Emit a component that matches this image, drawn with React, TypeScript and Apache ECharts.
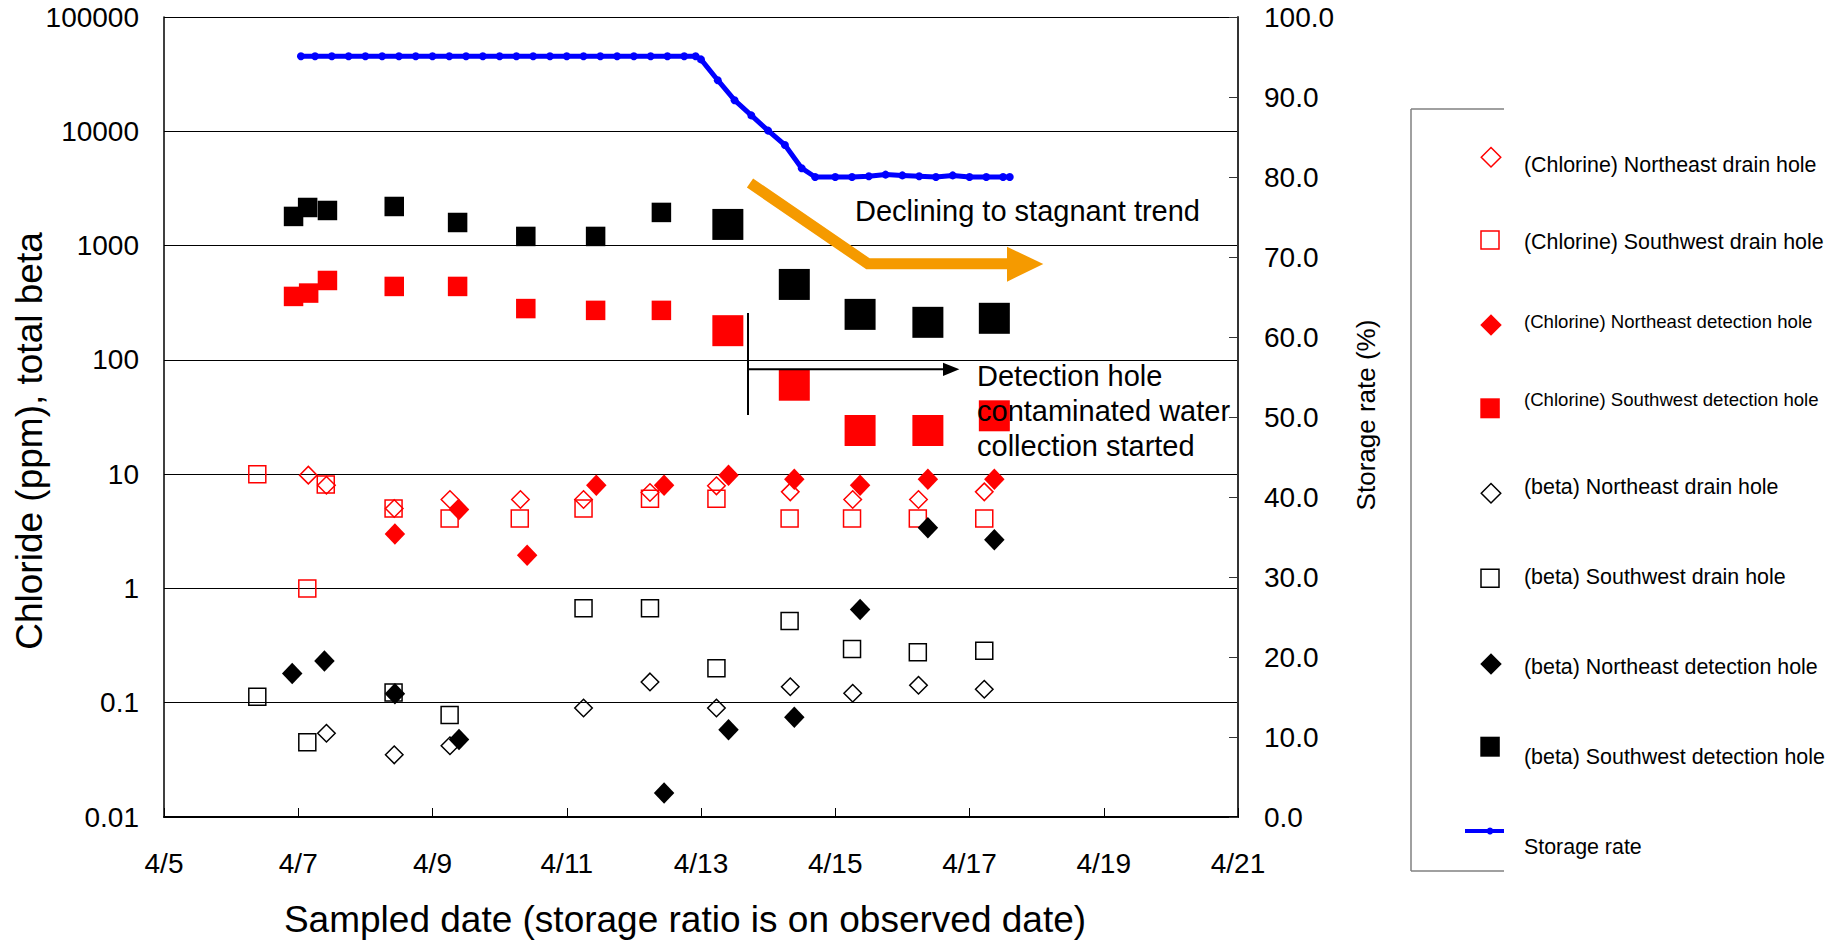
import React, { useEffect, useRef } from "react";
import * as echarts from "echarts";

// ---- Data (x = day of April, y = value) ----
const clNeDrainX = [7.15, 7.42, 8.43, 9.26, 10.31, 11.25, 12.24, 13.23, 14.33, 15.26, 16.24, 17.22];
const clNeDrainY = [9.8, 8.0, 5.0, 6.0, 6.0, 6.0, 6.9, 7.9, 7.0, 6.0, 6.0, 7.0];

const clSwDrainX = [6.39, 7.135, 7.41, 8.42, 9.255, 10.3, 11.25, 12.24, 13.23, 14.32, 15.25, 16.23, 17.22];
const clSwDrainY = [10, 1.0, 8.1, 5.0, 4.1, 4.1, 5.0, 6.1, 6.1, 4.1, 4.1, 4.1, 4.1];

const clNeDetX = [8.44, 9.395, 10.41, 11.44, 12.45, 13.41, 14.39, 15.37, 16.38, 17.37];
const clNeDetY = [3.0, 4.9, 1.95, 8.0, 8.0, 9.8, 9.0, 8.0, 9.0, 9.0];

const clSwDetX = [6.93, 7.155, 7.435, 8.43, 9.374, 10.39, 11.43, 12.41, 13.4, 14.39, 15.37, 16.38, 17.37];
const clSwDetY = [359, 384, 495, 439, 439, 281, 271, 271, 180, 60, 24.1, 24.1, 32.4];

const btNeDrainX = [7.42, 8.43, 9.26, 11.25, 12.24, 13.23, 14.33, 15.26, 16.24, 17.22];
const btNeDrainY = [0.054, 0.035, 0.042, 0.09, 0.152, 0.09, 0.138, 0.121, 0.142, 0.131];

const btSwDrainX = [6.39, 7.135, 8.42, 9.255, 11.25, 12.24, 13.23, 14.32, 15.25, 16.23, 17.22];
const btSwDrainY = [0.113, 0.045, 0.123, 0.078, 0.67, 0.67, 0.2, 0.52, 0.295, 0.276, 0.285];

const btNeDetX = [6.91, 7.39, 8.44, 9.395, 12.45, 13.41, 14.39, 15.37, 16.38, 17.37];
const btNeDetY = [0.18, 0.232, 0.12, 0.0477, 0.0162, 0.058, 0.0745, 0.653, 3.4, 2.67];

const btSwDetX = [6.93, 7.14, 7.435, 8.43, 9.374, 10.39, 11.43, 12.41, 13.4, 14.39, 15.37, 16.38, 17.37];
const btSwDetY = [1799, 2154, 2028, 2198, 1592, 1202, 1202, 1950, 1531, 457, 250, 213, 231];

const storageDays = [
  7.04, 7.25, 7.5, 7.75, 8, 8.25, 8.5, 8.75, 9, 9.25, 9.5, 9.75, 10, 10.25, 10.5, 10.75,
  11, 11.25, 11.5, 11.75, 12, 12.25, 12.5, 12.75, 12.92,
  13.0, 13.25, 13.5, 13.75, 14.0, 14.25, 14.5, 14.7,
  15, 15.25, 15.5, 15.75, 16, 16.25, 16.5, 16.75, 17, 17.25, 17.5, 17.6,
];
const storageRate = [
  95.1, 95.1, 95.1, 95.1, 95.1, 95.1, 95.1, 95.1, 95.1, 95.1, 95.1, 95.1, 95.1, 95.1, 95.1, 95.1,
  95.1, 95.1, 95.1, 95.1, 95.1, 95.1, 95.1, 95.1, 95.1,
  94.7, 92.1, 89.6, 87.7, 85.8, 84.0, 81.1, 80.0,
  80.0, 80.0, 80.1, 80.3, 80.2, 80.1, 80.0, 80.2, 80.0, 80.0, 80.0, 80.0,
];

const legendLabels = [
  "(Chlorine) Northeast drain hole",
  "(Chlorine) Southwest drain hole",
  "(Chlorine) Northeast detection hole",
  "(Chlorine) Southwest detection hole",
  "(beta) Northeast drain hole",
  "(beta) Southwest drain hole",
  "(beta) Northeast detection hole",
  "(beta) Southwest detection hole",
  "Storage rate",
];

const FONT = "'Liberation Sans', Arial, Helvetica, sans-serif";
const RED = "#ff0000";
const BLACK = "#000000";
const BLUE = "#0000ff";
const ORANGE = "#f59a00";

const pairs = (xs: number[], ys: number[]) => xs.map((x, i) => [x, ys[i]]);

const diamondPts = (cx: number, cy: number, w: number, h: number) => [
  [cx, cy - h / 2],
  [cx + w / 2, cy],
  [cx, cy + h / 2],
  [cx - w / 2, cy],
];

function legendGraphics() {
  const els: any[] = [];
  // frame
  els.push({ type: "line", shape: { x1: 1411, y1: 109, x2: 1411, y2: 871 }, style: { stroke: "#808080", lineWidth: 1.5 } });
  els.push({ type: "line", shape: { x1: 1411, y1: 109, x2: 1504, y2: 109 }, style: { stroke: "#808080", lineWidth: 1.5 } });
  els.push({ type: "line", shape: { x1: 1411, y1: 871, x2: 1504, y2: 871 }, style: { stroke: "#808080", lineWidth: 1.5 } });

  const markerY = [157.3, 240, 325, 408.3, 493.3, 578.3, 664, 746.7, 831];
  const textY = [165, 241.7, 321.7, 399, 486.7, 576.5, 666.5, 756.5, 846.5];
  const sizes = [21.4, 21.4, 18.6, 18.6, 21.4, 21.4, 21.4, 21.4, 21.4];
  const kinds = ["hd", "hs", "fd", "fs", "hd", "hs", "fd", "fs", "line"];
  const colors = [RED, RED, RED, RED, BLACK, BLACK, BLACK, BLACK, BLUE];

  kinds.forEach((k, i) => {
    const cy = markerY[i];
    const c = colors[i];
    if (k === "hd") {
      els.push({ type: "polygon", shape: { points: diamondPts(1491, cy, 19.5, 19.5) }, style: { fill: "#fff", stroke: c, lineWidth: 1.5 } });
    } else if (k === "fd") {
      els.push({ type: "polygon", shape: { points: diamondPts(1491, cy, 21.5, 21.5) }, style: { fill: c } });
    } else if (k === "hs") {
      els.push({ type: "rect", shape: { x: 1481, y: cy - 9, width: 18, height: 18 }, style: { fill: "#fff", stroke: c, lineWidth: 1.5 } });
    } else if (k === "fs") {
      els.push({ type: "rect", shape: { x: 1480.3, y: cy - 10, width: 19.5, height: 20 }, style: { fill: c } });
    } else {
      els.push({ type: "line", shape: { x1: 1465, y1: cy, x2: 1504, y2: cy }, style: { stroke: c, lineWidth: 4 } });
      els.push({ type: "circle", shape: { cx: 1490, cy, r: 3.5 }, style: { fill: c } });
    }
    els.push({
      type: "text",
      x: 1524,
      y: textY[i],
      style: {
        text: legendLabels[i],
        fontSize: sizes[i],
        fontFamily: FONT,
        fill: "#000",
        align: "left",
        verticalAlign: "middle",
      },
    });
  });
  return els;
}

function scatter(name: string, xs: number[], ys: number[], symbol: string, size: any, color: string, hollow: boolean, z: number) {
  return {
    name,
    type: "scatter",
    xAxisIndex: 0,
    yAxisIndex: 0,
    symbol,
    symbolSize: size,
    z,
    emphasis: { disabled: true },
    itemStyle: hollow
      ? { color: "rgba(0,0,0,0)", borderColor: color, borderWidth: 1.5, opacity: 1 }
      : { color, borderWidth: 0, opacity: 1 },
    data: pairs(xs, ys),
  };
}

const squareSize = (v: any) => (v[0] >= 13 ? 31 : 19.5);

export default function App() {
  const ref = useRef<HTMLDivElement>(null);

  useEffect(() => {
    if (!ref.current) return;
    const chart = echarts.init(ref.current, undefined, { renderer: "svg" });

    const logLabel = (v: number) => {
      const e = Math.round(Math.log10(v));
      return e >= 0 ? String(Math.pow(10, e)) : Math.pow(10, e).toFixed(-e);
    };

    const option: any = {
      animation: false,
      backgroundColor: "#ffffff",
      textStyle: { fontFamily: FONT },
      grid: { left: 164, top: 17, width: 1074, height: 800, containLabel: false },
      xAxis: {
        type: "value",
        min: 5,
        max: 21,
        interval: 2,
        axisLine: { show: true, onZero: false, lineStyle: { color: "#000", width: 2 } },
        axisTick: { show: true, inside: true, length: 9, lineStyle: { color: "#000", width: 1 } },
        axisLabel: { formatter: (v: number) => `4/${v}`, fontSize: 28, color: "#000", margin: 32, fontFamily: FONT },
        splitLine: { show: false },
      },
      yAxis: [
        {
          type: "log",
          logBase: 10,
          min: 0.01,
          max: 100000,
          position: "left",
          axisLine: { show: true, onZero: false, lineStyle: { color: "#000", width: 1.5 } },
          axisTick: { show: false },
          axisLabel: { formatter: logLabel, fontSize: 28, color: "#000", margin: 25, fontFamily: FONT, padding: [5, 0, 0, 0] },
          splitLine: { show: true, lineStyle: { color: "#000", width: 1 } },
        },
        {
          type: "value",
          min: 0,
          max: 100,
          interval: 10,
          position: "right",
          axisLine: { show: true, onZero: false, lineStyle: { color: "#333", width: 2 } },
          axisTick: { show: true, inside: true, length: 9, lineStyle: { color: "#333", width: 1 } },
          axisLabel: { formatter: (v: number) => v.toFixed(1), fontSize: 28, color: "#000", margin: 26, fontFamily: FONT, padding: [5, 0, 0, 0] },
          splitLine: { show: false },
        },
      ],
      series: [
        scatter(legendLabels[0], clNeDrainX, clNeDrainY, "diamond", 17.5, RED, true, 2),
        scatter(legendLabels[1], clSwDrainX, clSwDrainY, "rect", 17, RED, true, 2),
        scatter(legendLabels[2], clNeDetX, clNeDetY, "diamond", [20.5, 21.5], RED, false, 2),
        scatter(legendLabels[3], clSwDetX, clSwDetY, "rect", squareSize, RED, false, 2),
        scatter(legendLabels[4], btNeDrainX, btNeDrainY, "diamond", 17.5, BLACK, true, 2),
        scatter(legendLabels[5], btSwDrainX, btSwDrainY, "rect", 17, BLACK, true, 2),
        scatter(legendLabels[6], btNeDetX, btNeDetY, "diamond", [20.5, 21.5], BLACK, false, 2),
        scatter(legendLabels[7], btSwDetX, btSwDetY, "rect", squareSize, BLACK, false, 2),
        {
          name: legendLabels[8],
          type: "line",
          xAxisIndex: 0,
          yAxisIndex: 1,
          data: pairs(storageDays, storageRate),
          symbol: "circle",
          symbolSize: 8,
          showSymbol: true,
          showAllSymbol: true,
          z: 3,
          emphasis: { disabled: true },
          lineStyle: { color: BLUE, width: 5 },
          itemStyle: { color: BLUE, opacity: 1 },
        },
      ],
      graphic: [
        {
          type: "text",
          x: 29,
          y: 441,
          rotation: Math.PI / 2,
          style: { text: "Chloride (ppm), total beta", fontSize: 37, fontFamily: FONT, fill: "#000", align: "center", verticalAlign: "middle" },
        },
        {
          type: "text",
          x: 685,
          y: 919,
          style: { text: "Sampled date (storage ratio is on observed date)", fontSize: 37, fontFamily: FONT, fill: "#000", align: "center", verticalAlign: "middle" },
        },
        {
          type: "text",
          x: 1366,
          y: 415,
          rotation: Math.PI / 2,
          style: { text: "Storage rate (%)", fontSize: 26, fontFamily: FONT, fill: "#000", align: "center", verticalAlign: "middle" },
        },
        // orange trend arrow
        {
          type: "polyline",
          z: 10,
          shape: { points: [[750, 183], [868, 263.8], [1009, 263.8]] },
          style: { stroke: ORANGE, lineWidth: 11, fill: null, lineJoin: "miter", lineCap: "butt" },
        },
        {
          type: "polygon",
          z: 10,
          shape: { points: [[1007, 246.7], [1043.3, 264], [1007, 281.7]] },
          style: { fill: ORANGE },
        },
        {
          type: "text",
          z: 10,
          x: 855,
          y: 211,
          style: { text: "Declining to stagnant trend", fontSize: 29, fontFamily: FONT, fill: "#000", align: "left", verticalAlign: "middle" },
        },
        // black collection-start marker
        { type: "line", z: 10, shape: { x1: 748, y1: 313, x2: 748, y2: 415 }, style: { stroke: "#000", lineWidth: 2 } },
        { type: "line", z: 10, shape: { x1: 748, y1: 369.3, x2: 946, y2: 369.3 }, style: { stroke: "#000", lineWidth: 2 } },
        { type: "polygon", z: 10, shape: { points: [[943, 362.7], [959.4, 369.3], [943, 376]] }, style: { fill: "#000" } },
        {
          type: "text",
          z: 10,
          x: 977,
          y: 410.8,
          style: {
            text: "Detection hole\ncontaminated water\ncollection started",
            fontSize: 29,
            lineHeight: 35,
            fontFamily: FONT,
            fill: "#000",
            align: "left",
            verticalAlign: "middle",
          },
        },
        ...legendGraphics(),
      ],
    };

    chart.setOption(option);
    return () => chart.dispose();
  }, []);

  return (
    <div
      ref={ref}
      style={{ position: "fixed", left: 0, top: 0, width: 1843, height: 940, background: "#fff" }}
    />
  );
}
